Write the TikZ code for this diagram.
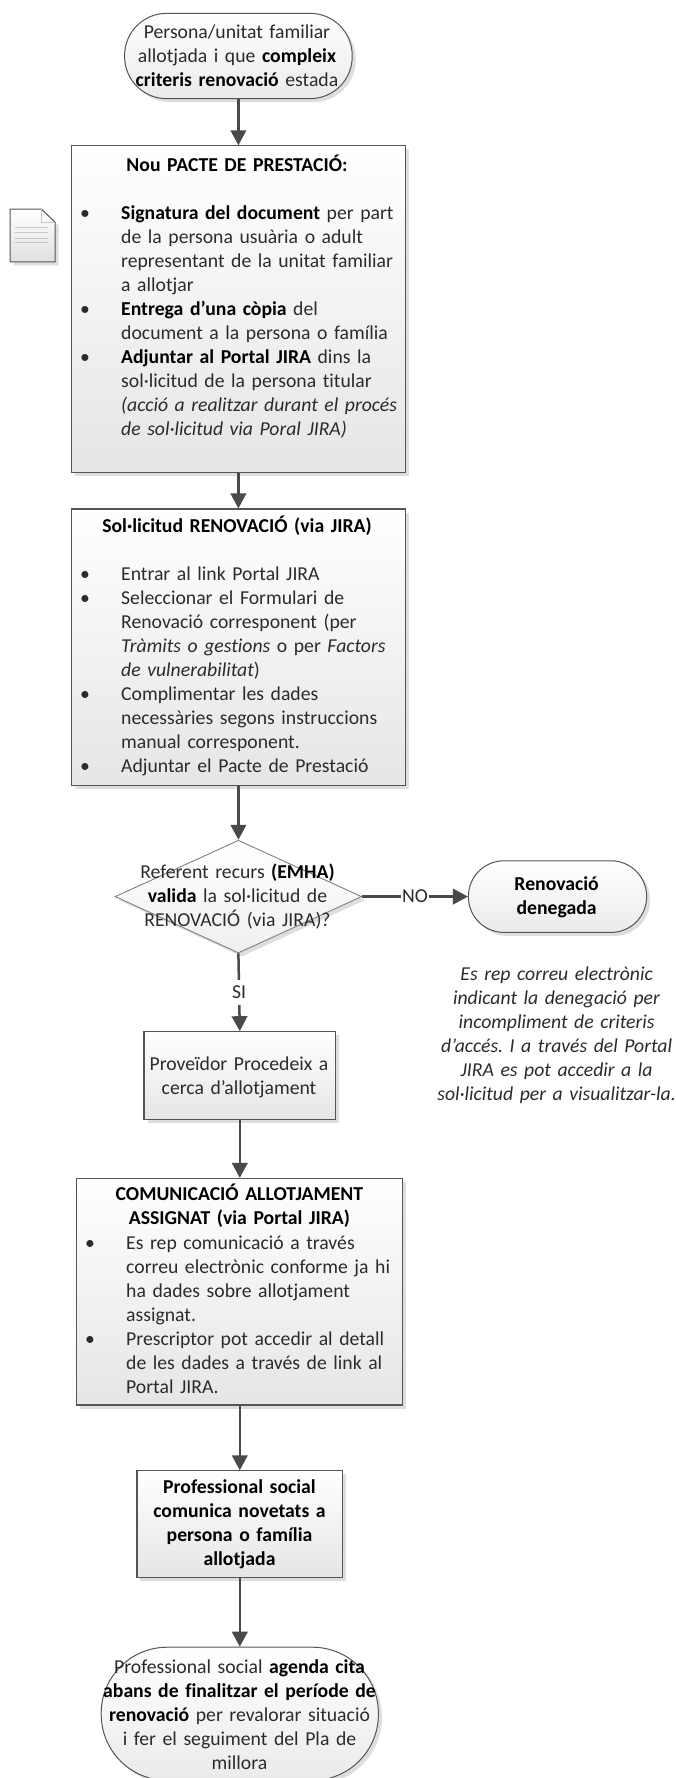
\documentclass[tikz,border=0pt]{standalone}
\usepackage{fontspec}
\setmainfont{Carlito}[Ligatures=NoCommon]
\usetikzlibrary{arrows.meta,shapes.geometric,shadows}
\frenchspacing
\definecolor{edgec}{HTML}{555555}
\definecolor{linec}{HTML}{4A4A4A}
\definecolor{txtc}{HTML}{2B2B2B}
\newcommand{\bl}{\leavevmode\llap{\makebox[41pt][l]{\textbullet}}}
\newcommand{\bk}[1]{\textbf{\textcolor{black}{#1}}}
\tikzset{
  x=1pt,y=-1pt,
  shdw/.style={drop shadow={shadow xshift=3.5pt,shadow yshift=-3.5pt,fill=black,opacity=.13}},
  procbox/.style={draw=edgec,line width=1.1pt,rectangle,top color=white,bottom color=black!10,shdw,inner sep=0pt},
  termbox/.style={draw=edgec,line width=1pt,rectangle,top color=white,bottom color=black!8,shdw,inner sep=0pt},
  decbox/.style={draw=black!50,line width=.9pt,diamond,aspect=2.186,inner sep=0pt,top color=white,bottom color=black!6,shdw},
  flow/.style={draw=linec,line width=2.5pt,-{Triangle[width=15.5pt,length=15pt]}},
  ctext/.style={font=\fontsize{19.7}{24}\selectfont,text=txtc,inner sep=0pt,anchor=base,align=center,text width=320pt},
  ltext/.style={font=\fontsize{19.7}{24}\selectfont,text=txtc,inner sep=0pt,anchor=base west,align=left,text width=320pt},
  tagtext/.style={font=\fontsize{19.7}{24}\selectfont,text=txtc,inner xsep=1.5pt,inner ysep=0pt,minimum height=25pt,fill=white},
}
\begin{document}
\begin{tikzpicture}
\useasboundingbox (0,0) rectangle (675,1778);
\clip (0,0) rectangle (675,1778);
% shapes
\node[termbox,minimum width=227.6pt,minimum height=85.3pt,rounded corners=42pt] (start) at (238.4,56) {};
\node[procbox,minimum width=333.5pt,minimum height=326.8pt] (pacte) at (238.4,309.2) {};
\node[procbox,minimum width=333.5pt,minimum height=276.6pt] (sol) at (238.4,647.3) {};
\node[decbox,minimum width=246.6pt,minimum height=112.8pt] (dec) at (238.4,896.6) {};
\node[termbox,minimum width=178.2pt,minimum height=71.6pt,rounded corners=35.5pt] (den) at (557.5,896.6) {};
\node[procbox,minimum width=191.6pt,minimum height=88pt] (prov) at (239.8,1075.7) {};
\node[procbox,minimum width=325.9pt,minimum height=226.6pt] (com) at (239.8,1291.7) {};
\node[procbox,minimum width=205.7pt,minimum height=106.7pt] (prof) at (239.8,1524.15) {};
\node[termbox,minimum width=277.2pt,minimum height=133.2pt,rounded corners=66pt] (fin) at (239.8,1713.8) {};
% document icon
\path[draw=edgec,line width=1pt,top color=white,bottom color=black!12,shdw]
  (10,209) -- (41.3,209) -- (55,222) -- (55,261.8) -- (10,261.8) -- cycle;
\draw[black!22,line width=.8pt] (41.3,209) -- (41.3,222) -- (55,222);
\draw[black!22,line width=.8pt] (15,227) -- (48,227) (15,232.5) -- (48,232.5) (15,238) -- (48,238) (15,242.5) -- (48,242.5);
% text
\node[ctext] (tstart) at (237,38.3) {Persona/unitat familiar\\allotjada i que \bk{compleix}\\\bk{criteris renovació} estada};
\node[ctext,text=black] (tp1) at (237,171) {\textbf{Nou PACTE DE PRESTACIÓ:}};
\node[ltext] (tp2) at (121,219.3) {\bl\bk{Signatura del document} per part\\de la persona usuària o adult\\representant de la unitat familiar\\a allotjar\\\bl\bk{Entrega d’una còpia} del\\document a la persona o família\\\bl\bk{Adjuntar al Portal JIRA} dins la\\sol·licitud de la persona titular\\\textit{(acció a realitzar durant el procés}\\\textit{de sol·licitud via Poral JIRA)}};
\node[ctext,text=black] (ts1) at (237,532.5) {\textbf{Sol·licitud RENOVACIÓ (via JIRA)}};
\node[ltext] (ts2) at (121,580.9) {\bl Entrar al link Portal JIRA\\\bl Seleccionar el Formulari de\\Renovació corresponent (per\\\textit{Tràmits o gestions} o per \textit{Factors}\\\textit{de vulnerabilitat})\\\bl Complimentar les dades\\necessàries segons instruccions\\manual corresponent.\\\bl Adjuntar el Pacte de Prestació};
\node[ctext] (tdec) at (237.5,878.2) {Referent recurs \bk{(EMHA)}\\\bk{valida} la sol·licitud de\\RENOVACIÓ (via JIRA)?};
\node[ctext,text=black] (tden) at (556.6,890.5) {\textbf{Renovació}\\\textbf{denegada}};
\node[ctext] (tnote) at (556.6,980.4) {\textit{Es rep correu electrònic}\\\textit{indicant la denegació per}\\\textit{incompliment de criteris}\\\textit{d’accés. I a través del Portal}\\\textit{JIRA es pot accedir a la}\\\textit{sol·licitud per a visualitzar-la.}};
\node[ctext] (tprov) at (239,1070.3) {Proveïdor Procedeix a\\cerca d’allotjament};
\node[ctext,text=black] (tc1) at (239.4,1200.5) {\textbf{COMUNICACIÓ ALLOTJAMENT}\\\textbf{ASSIGNAT (via Portal JIRA)}};
\node[ltext] (tc2) at (126,1249.5) {\bl Es rep comunicació a través\\correu electrònic conforme ja hi\\ha dades sobre allotjament\\assignat.\\\bl Prescriptor pot accedir al detall\\de les dades a través de link al\\Portal JIRA.};
\node[ctext,text=black] (tprof) at (239.5,1493.5) {\textbf{Professional social}\\\textbf{comunica novetats a}\\\textbf{persona o família}\\\textbf{allotjada}};
\node[ctext] (tfin) at (239.5,1673.2) {Professional social \bk{agenda cita}\\\bk{abans de finalitzar el període de}\\\bk{renovació} per revalorar situació\\i fer el seguiment del Pla de\\millora};
% connectors
\draw[flow] (start.south) -- (pacte.north);
\draw[flow] (pacte.south) -- (sol.north);
\draw[flow] (sol.south) -- (dec.north);
\draw[flow] (dec.east) -- (den.west) node[pos=.5,tagtext] (no) {NO};
\draw[flow] (dec.south) -- (prov.north) node[pos=.5,tagtext] (si) {SI};
\draw[flow] (prov.south) -- (com.north);
\draw[flow] (com.south) -- (prof.north);
\draw[flow] (prof.south) -- (fin.north);
\end{tikzpicture}
\end{document}
